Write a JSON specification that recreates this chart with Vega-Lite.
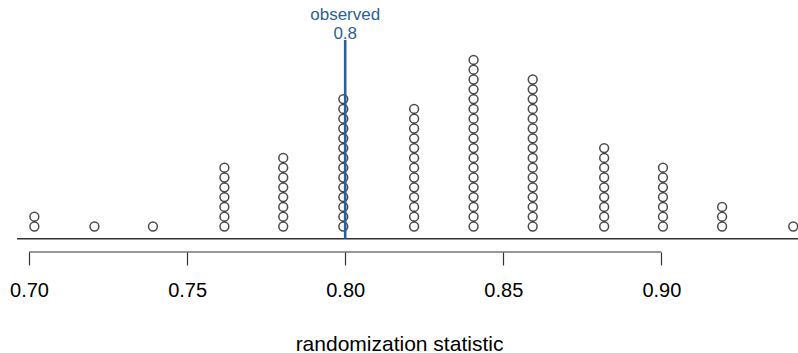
{
  "$schema": "https://vega.github.io/schema/vega-lite/v6.json",
  "width": 798,
  "height": 252,
  "padding": {"left": 0, "top": 0, "right": 0, "bottom": 101},
  "autosize": {"type": "none"},
  "config": {"view": {"stroke": null}, "font": "Liberation Sans"},
  "data": {"values": [
    {"s":0.7017},{"s":0.7017},
    {"s":0.7207},
    {"s":0.7392},
    {"s":0.7618},{"s":0.7618},{"s":0.7618},{"s":0.7618},{"s":0.7618},{"s":0.7618},{"s":0.7618},
    {"s":0.7804},{"s":0.7804},{"s":0.7804},{"s":0.7804},{"s":0.7804},{"s":0.7804},{"s":0.7804},{"s":0.7804},
    {"s":0.7994},{"s":0.7994},{"s":0.7994},{"s":0.7994},{"s":0.7994},{"s":0.7994},{"s":0.7994},{"s":0.7994},{"s":0.7994},{"s":0.7994},{"s":0.7994},{"s":0.7994},{"s":0.7994},{"s":0.7994},
    {"s":0.8218},{"s":0.8218},{"s":0.8218},{"s":0.8218},{"s":0.8218},{"s":0.8218},{"s":0.8218},{"s":0.8218},{"s":0.8218},{"s":0.8218},{"s":0.8218},{"s":0.8218},{"s":0.8218},
    {"s":0.8406},{"s":0.8406},{"s":0.8406},{"s":0.8406},{"s":0.8406},{"s":0.8406},{"s":0.8406},{"s":0.8406},{"s":0.8406},{"s":0.8406},{"s":0.8406},{"s":0.8406},{"s":0.8406},{"s":0.8406},{"s":0.8406},{"s":0.8406},{"s":0.8406},{"s":0.8406},
    {"s":0.8593},{"s":0.8593},{"s":0.8593},{"s":0.8593},{"s":0.8593},{"s":0.8593},{"s":0.8593},{"s":0.8593},{"s":0.8593},{"s":0.8593},{"s":0.8593},{"s":0.8593},{"s":0.8593},{"s":0.8593},{"s":0.8593},{"s":0.8593},
    {"s":0.8819},{"s":0.8819},{"s":0.8819},{"s":0.8819},{"s":0.8819},{"s":0.8819},{"s":0.8819},{"s":0.8819},{"s":0.8819},
    {"s":0.9005},{"s":0.9005},{"s":0.9005},{"s":0.9005},{"s":0.9005},{"s":0.9005},{"s":0.9005},
    {"s":0.9192},{"s":0.9192},{"s":0.9192},
    {"s":0.9417}
  ]},
  "layer": [
    {
      "transform": [{"window": [{"op": "row_number", "as": "n"}], "groupby": ["s"]}],
      "mark": {"type": "point", "shape": "circle", "filled": false, "stroke": "#000000", "strokeWidth": 1.5, "size": 78},
      "encoding": {
        "x": {
          "field": "s", "type": "quantitative",
          "scale": {"domain": [0.69083, 0.9432], "nice": false, "zero": false},
          "axis": {
            "values": [0.70, 0.75, 0.80, 0.85, 0.90],
            "format": ".2f",
            "domain": false,
            "grid": false,
            "tickSize": 13,
            "tickColor": "#333333",
            "tickWidth": 1.2,
            "labelFontSize": 20,
            "labelColor": "#000000",
            "labelPadding": 15,
            "labelFlush": false,
            "title": "randomization statistic",
            "titleFontSize": 21,
            "titleFontWeight": "normal",
            "titleColor": "#000000",
            "titlePadding": 33
          }
        },
        "y": {
          "field": "n", "type": "quantitative",
          "scale": {"domain": [-1.602, 24.112], "nice": false, "zero": false},
          "axis": null
        }
      }
    },
    {
      "data": {"values": [{"a": 0.6962, "b": 0.9432, "y": -0.245}]},
      "mark": {"type": "rule", "color": "#333333", "strokeWidth": 1.4},
      "encoding": {
        "x": {"field": "a", "type": "quantitative"},
        "x2": {"field": "b"},
        "y": {"field": "y", "type": "quantitative", "axis": null}
      }
    },
    {
      "data": {"values": [{"a": 0.70, "b": 0.90, "y": -1.602}]},
      "mark": {"type": "rule", "color": "#333333", "strokeWidth": 1.2},
      "encoding": {
        "x": {"field": "a", "type": "quantitative"},
        "x2": {"field": "b"},
        "y": {"field": "y", "type": "quantitative", "axis": null}
      }
    },
    {
      "data": {"values": [{"x": 0.80, "y1": -0.245, "y2": 20.03}]},
      "mark": {"type": "rule", "color": "#2c5f99", "strokeWidth": 2.6},
      "encoding": {
        "x": {"field": "x", "type": "quantitative"},
        "y": {"field": "y1", "type": "quantitative", "axis": null},
        "y2": {"field": "y2"}
      }
    },
    {
      "data": {"values": [{"x": 0.80, "y": 22.6, "t": "observed"}, {"x": 0.80, "y": 20.62, "t": "0.8"}]},
      "mark": {"type": "text", "color": "#2c5f99", "fontSize": 17, "baseline": "middle", "align": "center"},
      "encoding": {
        "x": {"field": "x", "type": "quantitative"},
        "y": {"field": "y", "type": "quantitative", "axis": null},
        "text": {"field": "t", "type": "nominal"}
      }
    }
  ]
}
